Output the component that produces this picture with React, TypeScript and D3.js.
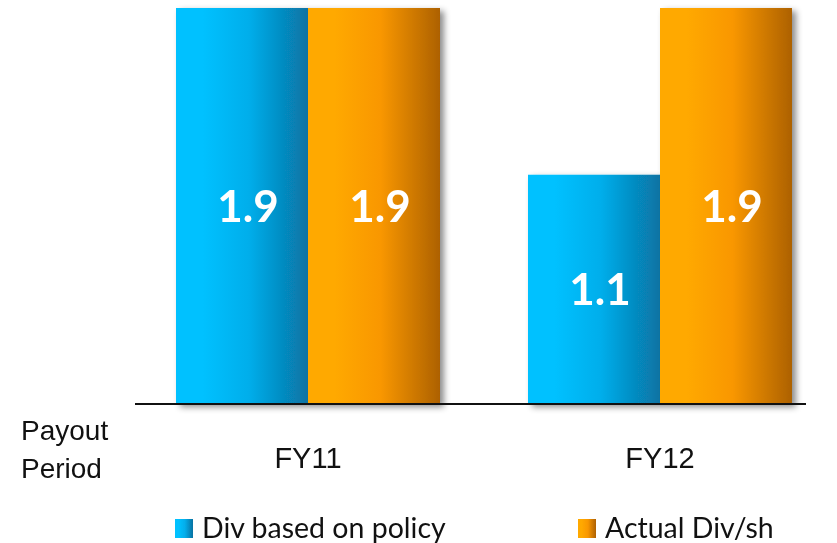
import React from "react";
import * as d3 from "d3";

const categories = ["FY11", "FY12"];
const seriesNames = ["Div based on policy", "Actual Div/sh"];
const policyDiv = [1.9, 1.1];
const actualDiv = [1.9, 1.9];

const W = 837;
const H = 543;

const gradients = [
  { id: "gBlue", from: "#00C1FF", mid: "#03AEEB", to: "#0872A2" },
  { id: "gOrange", from: "#FFA900", mid: "#F99700", to: "#AD6104" },
];

export default function App() {
  const x = d3
    .scaleBand<string>()
    .domain(categories)
    .range([135, 833])
    .paddingInner(0.25)
    .paddingOuter(0.1165);
  const xs = d3.scaleBand<number>().domain([0, 1]).range([0, x.bandwidth()]).padding(0);
  const y = d3.scaleLinear().domain([0, 1.9]).range([404, 8]);
  const series = [policyDiv, actualDiv];

  return (
    <div style={{ position: "fixed", left: 0, top: 0 }}>
      <svg width={W} height={H} style={{ display: "block" }}>
        <defs>
          {gradients.map((g) => (
            <linearGradient key={g.id} id={g.id} x1="0" x2="1" y1="0" y2="0">
              <stop offset="0" stopColor={g.from} />
              <stop offset="0.2" stopColor={g.from} />
              <stop offset="0.55" stopColor={g.mid} />
              <stop offset="1" stopColor={g.to} />
            </linearGradient>
          ))}
          <filter id="shadow" x="-10%" y="-10%" width="130%" height="130%">
            <feDropShadow dx="4" dy="3" stdDeviation="3" floodColor="#000" floodOpacity="0.45" />
          </filter>
        </defs>
        <g filter="url(#shadow)">
          {categories.map((c, i) => (
            <g key={c} transform={`translate(${x(c)},0)`}>
              {series.map((s, k) => (
                <rect
                  key={k}
                  x={xs(k)}
                  y={y(s[i])}
                  width={xs.bandwidth() + (k === 0 ? 0.5 : 0)}
                  height={y(0) - y(s[i])}
                  fill={`url(#${gradients[k].id})`}
                />
              ))}
            </g>
          ))}
        </g>
        {categories.map((c, i) => (
          <g key={c + "l"} transform={`translate(${x(c)},0)`}>
            {series.map((s, k) => (
              <text
                key={k}
                x={(xs(k) as number) + xs.bandwidth() / 2 + 6}
                y={(y(s[i]) + y(0)) / 2}
                dy="0.36em"
                textAnchor="middle"
                fill="#fff"
                fontFamily="Lato, 'Open Sans', sans-serif"
                fontWeight="bold"
                fontSize={44}
              >
                {s[i].toFixed(1)}
              </text>
            ))}
          </g>
        ))}
        <line x1={135} x2={806} y1={404} y2={404} stroke="#111" strokeWidth={2} />
        {categories.map((c) => (
          <text
            key={c + "t"}
            x={(x(c) as number) + x.bandwidth() / 2}
            y={468}
            textAnchor="middle"
            fontFamily="'Liberation Sans', Arial, sans-serif"
            fontSize={29}
            fill="#111"
          >
            {c}
          </text>
        ))}
        <text fontFamily="'Liberation Sans', Arial, sans-serif" fontSize={28} fill="#111">
          <tspan x={21} y={440}>Payout</tspan>
          <tspan x={21} y={478}>Period</tspan>
        </text>
        {seriesNames.map((n, k) => {
          const lx = k === 0 ? 175 : 578;
          return (
            <g key={n}>
              <rect x={lx} y={519} width={18} height={19} fill={`url(#${gradients[k].id})`} />
              <text
                x={lx + 27}
                y={538}
                fontFamily="Lato, 'Open Sans', sans-serif"
                fontSize={28.5}
                fill="#111"
              >
                {n}
              </text>
            </g>
          );
        })}
      </svg>
    </div>
  );
}
